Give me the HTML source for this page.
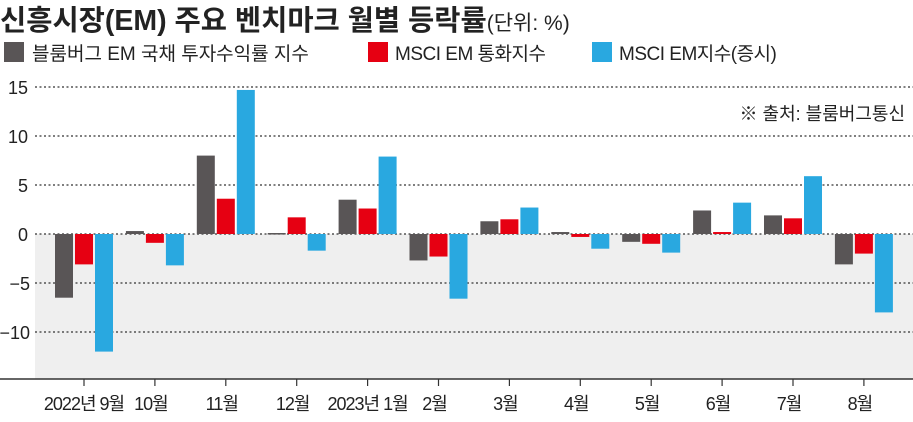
<!DOCTYPE html>
<html><head><meta charset="utf-8"><style>
body{margin:0;width:913px;height:417px;background:#fff;overflow:hidden}
svg text{font-family:"Liberation Sans","Noto Sans CJK KR",sans-serif}
</style></head><body>
<svg width="913" height="417" viewBox="0 0 913 417">
<rect x="35" y="234" width="878" height="145" fill="#efefef"/>
<g stroke="#333" stroke-width="1.2" stroke-dasharray="2,2.5">
<line x1="35" x2="913" y1="87" y2="87"/><line x1="35" x2="913" y1="136" y2="136"/>
<line x1="35" x2="913" y1="185" y2="185"/><line x1="35" x2="913" y1="234" y2="234"/>
<line x1="35" x2="913" y1="283" y2="283"/><line x1="35" x2="913" y1="332" y2="332"/>
</g>
<g font-size="18" fill="#222" text-anchor="end">
<text x="28" y="94">15</text><text x="28" y="143">10</text><text x="28" y="192">5</text>
<text x="28" y="241">0</text><text x="30" y="290">−5</text><text x="30" y="339">−10</text>
</g>
<text x="0" y="30" font-size="28.5" font-weight="bold" fill="#222">신흥시장(EM) 주요 벤치마크 월별 등락률<tspan font-size="21" font-weight="normal">(단위: %)</tspan></text>
<g font-size="19" fill="#222">
<rect x="4" y="42" width="20" height="20" fill="#595556"/><text x="32" y="60">블룸버그 EM 국채 투자수익률 지수</text>
<rect x="368" y="42" width="20" height="20" fill="#e60012"/><text x="395" y="60" letter-spacing="-0.5">MSCI EM 통화지수</text>
<rect x="592" y="42" width="20" height="20" fill="#29a8e0"/><text x="619" y="60" letter-spacing="-0.5">MSCI EM지수(증시)</text>
</g>
<text x="905" y="120" font-size="18" fill="#222" text-anchor="end">※ 출처: 블룸버그통신</text>
<g id="bars"></g>
<line x1="0" x2="913" y1="379" y2="379" stroke="#333" stroke-width="1.5"/>
<g id="ticks" stroke="#333" stroke-width="1.2"></g>
<g id="labels" font-size="18" fill="#222" text-anchor="middle" letter-spacing="-1"></g>
</svg>
<script>
var d=[[-6.5,-3.1,-12],[0.3,-0.9,-3.2],[8.0,3.6,14.7],[0.1,1.7,-1.7],[3.5,2.6,7.9],[-2.7,-2.3,-6.6],[1.3,1.5,2.7],[0.2,-0.3,-1.5],[-0.8,-1.0,-1.9],[2.4,0.2,3.2],[1.9,1.6,5.9],[-3.1,-2.0,-8.0]];
var L=["2022년 9월","10월","11월","12월","2023년 1월","2월","3월","4월","5월","6월","7월","8월"];
var c=["#595556","#e60012","#29a8e0"],off=[-29,-9,11],s=9.8,ns="http://www.w3.org/2000/svg";
var b=document.getElementById("bars"),t=document.getElementById("ticks"),l=document.getElementById("labels");
d.forEach(function(g,i){var cx=84+i*70.9;
g.forEach(function(v,j){var r=document.createElementNS(ns,"rect");var h=Math.abs(v)*s;
r.setAttribute("x",cx+off[j]);r.setAttribute("width",18);r.setAttribute("y",v>=0?234-h:234);r.setAttribute("height",Math.max(h,1.5));r.setAttribute("fill",c[j]);b.appendChild(r);});
var k=document.createElementNS(ns,"line");k.setAttribute("x1",cx);k.setAttribute("x2",cx);k.setAttribute("y1",379);k.setAttribute("y2",386);t.appendChild(k);
var x=document.createElementNS(ns,"text");x.setAttribute("x",cx-(i==0||i==4?0:4));x.setAttribute("y",410);x.textContent=L[i];l.appendChild(x);});
</script>
</body></html>
